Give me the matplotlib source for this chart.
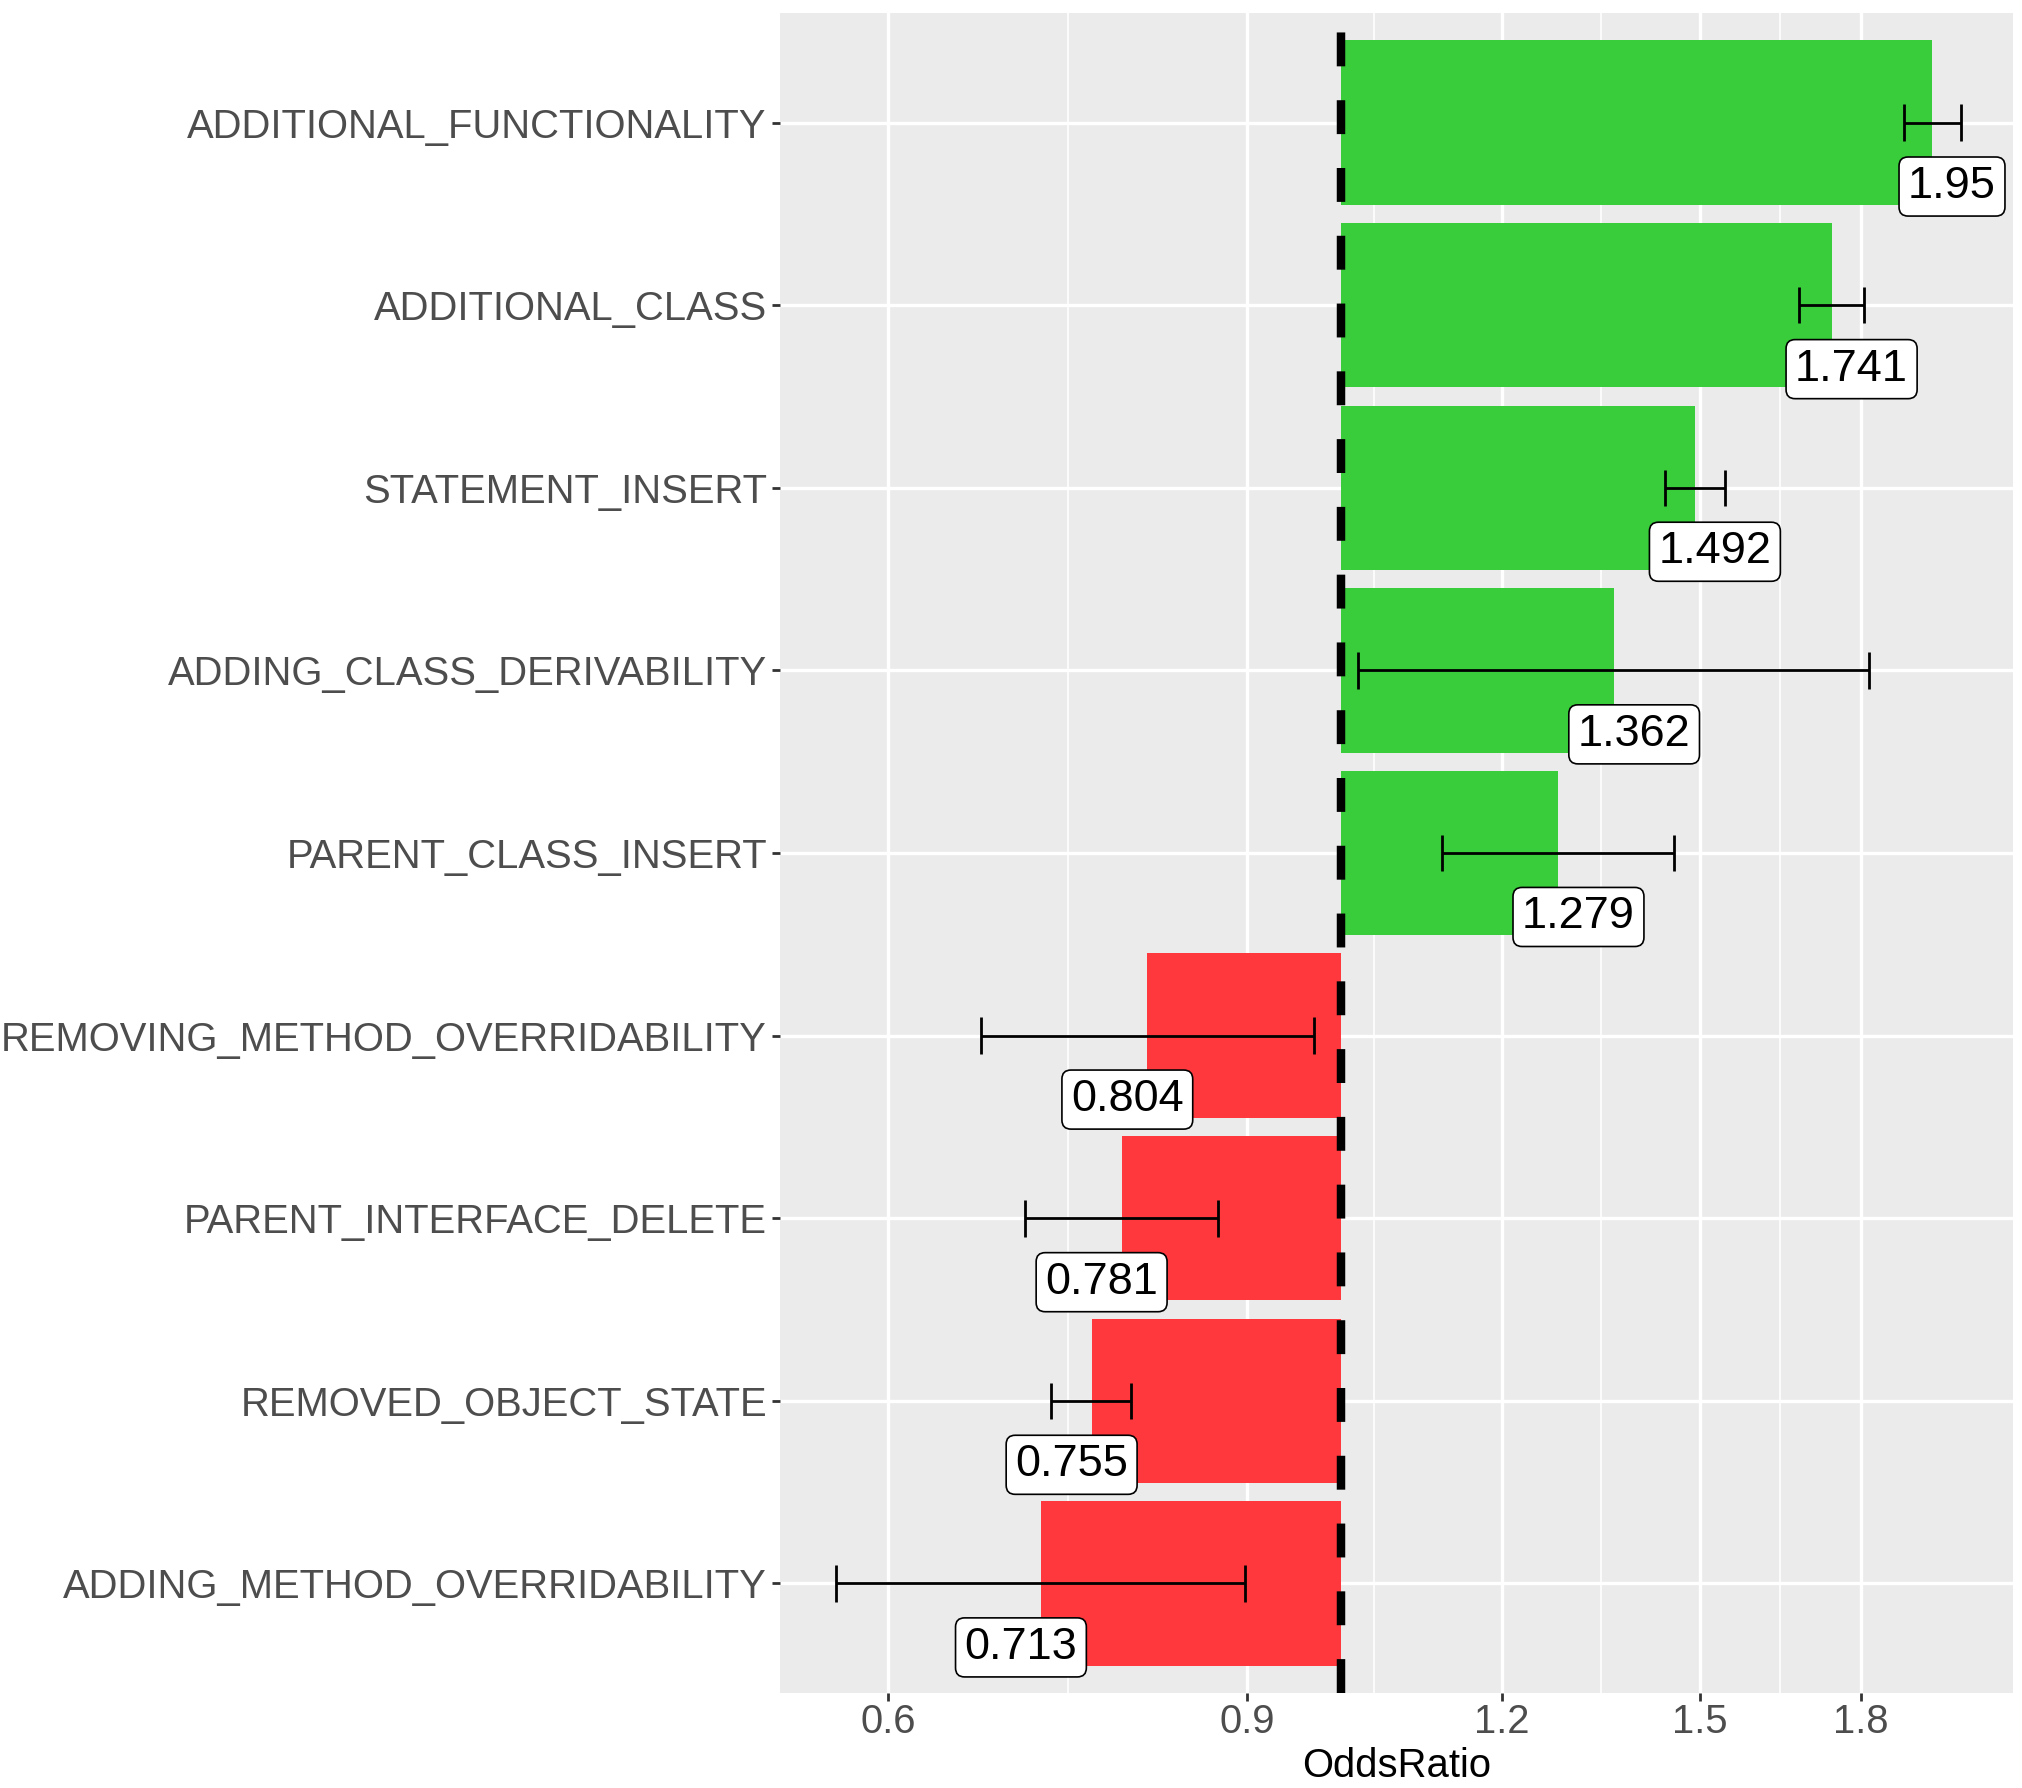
"""Odds ratio bar chart with confidence intervals (log x axis)."""

import matplotlib

matplotlib.use("Agg")
import matplotlib.pyplot as plt
from matplotlib.ticker import FixedLocator, FixedFormatter, NullFormatter

# categories listed bottom to top
categories = [
    "ADDING_METHOD_OVERRIDABILITY",
    "REMOVED_OBJECT_STATE",
    "PARENT_INTERFACE_DELETE",
    "REMOVING_METHOD_OVERRIDABILITY",
    "PARENT_CLASS_INSERT",
    "ADDING_CLASS_DERIVABILITY",
    "STATEMENT_INSERT",
    "ADDITIONAL_CLASS",
    "ADDITIONAL_FUNCTIONALITY",
]
odds_ratio = [0.713, 0.755, 0.781, 0.804, 1.279, 1.362, 1.492, 1.741, 1.95]
ci_low = [0.566, 0.721, 0.700, 0.666, 1.121, 1.020, 1.442, 1.678, 1.890]
ci_high = [0.898, 0.789, 0.871, 0.970, 1.457, 1.816, 1.543, 1.805, 2.015]

x_ticks = [0.6, 0.9, 1.2, 1.5, 1.8]
x_minor = [0.735, 1.039, 1.342, 1.643]

GREEN = "#39CC3B"
RED = "#FF383D"

plt.rcParams["font.family"] = ["Liberation Sans", "DejaVu Sans"]

fig = plt.figure(figsize=(20.22, 17.88), dpi=100)
ax = fig.add_axes([0.3858, 0.0531, 0.6098, 0.9396])
ax.set_facecolor("#EBEBEB")
for side in ax.spines.values():
    side.set_visible(False)

pos = list(range(1, len(categories) + 1))
colors = [GREEN if v > 1 else RED for v in odds_ratio]
widths = [v - 1 for v in odds_ratio]

ax.set_xscale("log")
ax.barh(pos, widths, left=1, height=0.9, color=colors, zorder=2)

# confidence intervals
ax.hlines(pos, ci_low, ci_high, color="black", lw=2.0, zorder=3)
ax.vlines(ci_low, [p - 0.1 for p in pos], [p + 0.1 for p in pos], color="black", lw=2.0, zorder=3)
ax.vlines(ci_high, [p - 0.1 for p in pos], [p + 0.1 for p in pos], color="black", lw=2.0, zorder=3)

# reference line at OR = 1
ax.plot([1, 1], [0.4, 9.6], color="black", lw=6.1, linestyle=(0, (4.0, 4.0)),
        solid_capstyle="butt", dash_capstyle="butt", zorder=4)

for p, v in zip(pos, odds_ratio):
    shift = 14.4 if v > 1 else -14.4
    ax.annotate(f"{v:g}", xy=(v, p - 0.35), xytext=(shift, 0), textcoords="offset points",
                ha="center", va="center", fontsize=32.5, color="black", zorder=5,
                bbox=dict(boxstyle="round,pad=0.2,rounding_size=0.2", fc="white",
                          ec="black", lw=1.2))

ax.set_xlim(0.5311, 2.137)
ax.set_ylim(0.4, 9.6)
ax.xaxis.set_major_locator(FixedLocator(x_ticks))
ax.xaxis.set_major_formatter(FixedFormatter([f"{t:g}" for t in x_ticks]))
ax.xaxis.set_minor_locator(FixedLocator(x_minor))
ax.xaxis.set_minor_formatter(NullFormatter())
ax.set_yticks(pos)
ax.set_yticklabels(categories)

ax.grid(which="major", color="white", lw=2.4, zorder=0)
ax.grid(which="minor", axis="x", color="white", lw=1.2, zorder=0)
ax.set_axisbelow(True)

ax.tick_params(axis="both", which="major", length=5.5, width=2.0, color="#333333",
               labelsize=28.8, labelcolor="#4D4D4D")
ax.tick_params(axis="x", which="major", pad=2)
ax.tick_params(axis="y", which="major", pad=4)
ax.tick_params(which="minor", length=0)

ax.set_xlabel("OddsRatio", fontsize=28.8, color="black", labelpad=4)

fig.savefig("out.png", dpi=100)
plt.close(fig)
